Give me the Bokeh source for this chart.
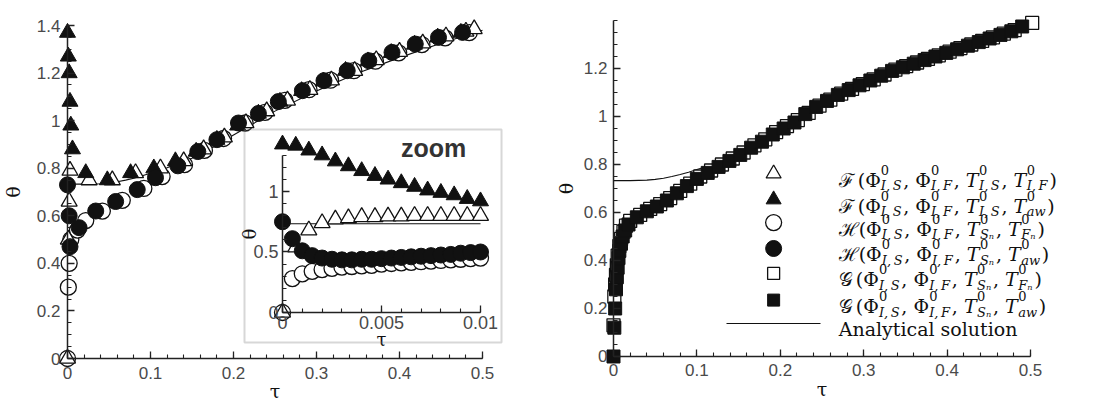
from bokeh.plotting import figure
from bokeh.models import Range1d, LinearAxis, FixedTicker, BoxAnnotation, Label, ColumnDataSource
from bokeh.layouts import row
from bokeh.embed import file_html
from bokeh.resources import INLINE
from bokeh.core.properties import value

# ---------------------------------------------------------------- data
# analytical solution (both panels)
TAU_AN = [0.0, 0.02, 0.04, 0.05, 0.06, 0.07, 0.08, 0.09, 0.10, 0.11, 0.12, 0.14, 0.16,
          0.20, 0.25, 0.30, 0.35, 0.40, 0.45, 0.50]
TH_AN = [0.733, 0.733, 0.735, 0.738, 0.743, 0.750, 0.758, 0.768, 0.779, 0.790, 0.802,
         0.828, 0.856, 0.940, 1.040, 1.125, 1.200, 1.265, 1.325, 1.380]

# left panel, main axes
TAU_F_AW = [0.0, 0.001, 0.002, 0.003, 0.004, 0.006, 0.022, 0.048, 0.076, 0.104, 0.130,
            0.155, 0.180, 0.205, 0.230, 0.256, 0.282, 0.308, 0.335, 0.362, 0.390, 0.418,
            0.446, 0.474]
TH_F_AW = [1.37, 1.27, 1.20, 1.08, 0.98, 0.88, 0.78, 0.75, 0.78, 0.80, 0.83, 0.87, 0.92,
           0.98, 1.03, 1.08, 1.125, 1.165, 1.21, 1.25, 1.285, 1.32, 1.35, 1.37]
TAU_F_IF = [0.0, 0.001, 0.002, 0.003, 0.026, 0.054, 0.082, 0.112, 0.140, 0.164, 0.189,
            0.215, 0.240, 0.265, 0.292, 0.318, 0.346, 0.372, 0.400, 0.428, 0.456, 0.480,
            0.490]
TH_F_IF = [0.0, 0.50, 0.66, 0.79, 0.75, 0.75, 0.78, 0.80, 0.83, 0.88, 0.93, 0.99, 1.04,
           1.085, 1.13, 1.17, 1.21, 1.255, 1.29, 1.325, 1.355, 1.375, 1.385]
TAU_H_AW = [0.0, 0.002, 0.003, 0.014, 0.034, 0.058, 0.084, 0.106, 0.133, 0.157, 0.180,
            0.206, 0.230, 0.254, 0.283, 0.309, 0.337, 0.363, 0.391, 0.419, 0.447, 0.476]
TH_H_AW = [0.73, 0.60, 0.47, 0.55, 0.62, 0.66, 0.71, 0.76, 0.81, 0.87, 0.92, 0.99, 1.03,
           1.08, 1.126, 1.168, 1.21, 1.252, 1.287, 1.322, 1.35, 1.371]
TAU_H_FN = [0.0, 0.001, 0.002, 0.004, 0.012, 0.022, 0.042, 0.066, 0.092, 0.114, 0.141,
            0.165, 0.188, 0.214, 0.238, 0.262, 0.291, 0.317, 0.345, 0.371, 0.399, 0.427,
            0.455, 0.484]
TH_H_FN = [0.0, 0.30, 0.40, 0.50, 0.54, 0.58, 0.62, 0.665, 0.715, 0.765, 0.815, 0.875,
           0.925, 0.99, 1.035, 1.085, 1.13, 1.17, 1.21, 1.25, 1.285, 1.32, 1.348, 1.37]

# left panel, zoom inset
ZTAU_F = [0.0, 0.00067, 0.00133, 0.002, 0.00267, 0.00333, 0.004, 0.00467, 0.00533, 0.006,
          0.00667, 0.00733, 0.008, 0.00867, 0.00933, 0.01]
ZTH_F_AW = [1.39, 1.38, 1.34, 1.30, 1.25, 1.21, 1.17, 1.13, 1.10, 1.07, 1.04, 1.01, 0.99,
            0.97, 0.94, 0.92]
ZTH_F_IF = [0.0, 0.54, 0.68, 0.74, 0.77, 0.78, 0.79, 0.79, 0.795, 0.795, 0.80, 0.80, 0.80,
            0.80, 0.80, 0.80]
ZTAU_H = [0.0, 0.0005, 0.001, 0.0015, 0.002, 0.0025, 0.003, 0.0035, 0.004, 0.0045, 0.005,
          0.0055, 0.006, 0.0065, 0.007, 0.0075, 0.008, 0.0085, 0.009, 0.0095, 0.01]
ZTH_H_AW = [0.75, 0.61, 0.51, 0.47, 0.45, 0.44, 0.435, 0.435, 0.44, 0.44, 0.445, 0.45,
            0.455, 0.46, 0.465, 0.47, 0.475, 0.48, 0.49, 0.495, 0.50]
ZTH_H_FN = [0.0, 0.28, 0.32, 0.34, 0.355, 0.365, 0.375, 0.38, 0.385, 0.39, 0.40, 0.405,
            0.41, 0.415, 0.42, 0.425, 0.43, 0.435, 0.44, 0.445, 0.45]
ZTAU_AN = [0.0, 0.01]
ZTH_AN = [0.733, 0.733]

# right panel
TAU_G_AW = [0.0, 0.001, 0.002, 0.003, 0.004, 0.005, 0.006, 0.007, 0.009, 0.011, 0.014,
            0.018, 0.028, 0.040, 0.052, 0.064, 0.076, 0.088, 0.100, 0.113, 0.126, 0.139,
            0.152, 0.165, 0.178, 0.191, 0.204, 0.217, 0.230, 0.243, 0.256, 0.269, 0.282,
            0.295, 0.308, 0.321, 0.334, 0.347, 0.360, 0.373, 0.386, 0.399, 0.412, 0.425,
            0.438, 0.451, 0.464, 0.477, 0.490]
TH_G_AW = [0.0, 0.12, 0.20, 0.28, 0.33, 0.37, 0.41, 0.44, 0.47, 0.50, 0.525, 0.55, 0.58,
           0.605, 0.625, 0.65, 0.68, 0.71, 0.74, 0.765, 0.79, 0.815, 0.84, 0.87, 0.895,
           0.925, 0.95, 0.975, 1.01, 1.04, 1.065, 1.09, 1.11, 1.13, 1.15, 1.17, 1.19, 1.205,
           1.22, 1.235, 1.25, 1.265, 1.28, 1.295, 1.31, 1.325, 1.34, 1.355, 1.375]
TAU_G_FN = [0.0, 0.001, 0.002, 0.003, 0.004, 0.005, 0.007, 0.009, 0.012, 0.015, 0.020,
            0.032, 0.044, 0.056, 0.068, 0.080, 0.092, 0.104, 0.117, 0.130, 0.143, 0.156,
            0.169, 0.182, 0.195, 0.208, 0.221, 0.234, 0.247, 0.260, 0.273, 0.286, 0.299,
            0.312, 0.325, 0.338, 0.351, 0.364, 0.377, 0.390, 0.403, 0.416, 0.429, 0.442,
            0.455, 0.468, 0.481, 0.502]
TH_G_FN = [0.13, 0.25, 0.30, 0.34, 0.38, 0.42, 0.46, 0.49, 0.52, 0.545, 0.565, 0.59, 0.615,
           0.635, 0.66, 0.69, 0.72, 0.75, 0.775, 0.80, 0.825, 0.85, 0.88, 0.905, 0.935,
           0.96, 0.985, 1.015, 1.045, 1.07, 1.095, 1.115, 1.135, 1.155, 1.175, 1.195, 1.21,
           1.225, 1.24, 1.255, 1.27, 1.285, 1.30, 1.315, 1.33, 1.345, 1.36, 1.39]

# axes
X_TICKS = [0, 0.1, 0.2, 0.3, 0.4, 0.5]
X_LABELS = ["0", "0.1", "0.2", "0.3", "0.4", "0.5"]
YL_TICKS = [0, 0.2, 0.4, 0.6, 0.8, 1, 1.2, 1.4]
YL_LABELS = ["0", "0.2", "0.4", "0.6", "0.8", "1", "1.2", "1.4"]
YR_TICKS = [0, 0.2, 0.4, 0.6, 0.8, 1, 1.2]
YR_LABELS = ["0", "0.2", "0.4", "0.6", "0.8", "1", "1.2"]
ZX_TICKS = [0, 0.005, 0.01]
ZX_LABELS = ["0", "0.005", "0.01"]
ZY_TICKS = [0, 0.5, 1]
ZY_LABELS = ["0", "0.5", "1"]

# legend
LEG_FUNC = ["ℱ", "ℱ", "ℋ", "ℋ", "𝒢", "𝒢"]
LEG_T1 = ["I,\u2009S", "I,\u2009S", "Sₙ", "Sₙ", "Sₙ", "Sₙ"]
LEG_T2 = ["I,\u2009F", "aw", "Fₙ", "aw", "Fₙ", "aw"]
LEG_LINE_TEXT = "Analytical solution"

# ---------------------------------------------------------------- style
INK = "#111111"
AXC = "#222222"
LBL = "#4a4a4a"
SANS = "Liberation Sans"
SERIF = "DejaVu Serif"


def style_axis(ax, ticks, labels, minor, bounds, fs, lab, lab_fs, so, lso):
    ax.ticker = FixedTicker(ticks=ticks, minor_ticks=minor)
    ax.major_label_overrides = {t: s for t, s in zip(ticks, labels)}
    ax.bounds = bounds
    ax.axis_line_color = AXC
    ax.axis_line_width = 1.5
    ax.major_tick_line_color = AXC
    ax.minor_tick_line_color = AXC
    ax.major_tick_line_width = 1.3
    ax.minor_tick_line_width = 1.1
    ax.major_tick_in = 7
    ax.major_tick_out = 0
    ax.minor_tick_in = 4
    ax.minor_tick_out = 0
    ax.major_label_text_font = SANS
    ax.major_label_text_font_size = fs
    ax.major_label_text_color = LBL
    ax.major_label_standoff = so
    ax.axis_label = lab
    ax.axis_label_text_font = SERIF
    ax.axis_label_text_font_style = "normal"
    ax.axis_label_text_font_size = lab_fs
    ax.axis_label_text_color = INK
    ax.axis_label_standoff = lso


def steps(step, top):
    n = int(round(top / step))
    return [round(k * step, 6) for k in range(n + 1)]


def make_fig(xr, yr):
    p = figure(width=549, height=402, x_range=Range1d(*xr), y_range=Range1d(*yr),
               output_backend="svg", toolbar_location=None, min_border=0,
               min_border_left=0, min_border_right=0, min_border_top=0, min_border_bottom=0)
    p.grid.visible = False
    p.outline_line_color = None
    return p


def pts(p, x, y, marker, size, filled, **kw):
    p.scatter(x=x, y=y, marker=marker, size=size,
              fill_color=INK if filled else "white", line_color=INK,
              line_width=1.0 if filled else 1.3, **kw)


# ---------------------------------------------------------------- left panel
p1 = make_fig((-0.080723, 0.580723), (-0.184985, 1.505107))
p1.extra_x_ranges = {"zx": Range1d(-0.0142424, 0.0134848)}
p1.extra_y_ranges = {"zy": Range1d(-0.743802, 2.578512)}

p1.xaxis.fixed_location = 0
p1.yaxis.fixed_location = 0
style_axis(p1.xaxis[0], X_TICKS, X_LABELS, steps(0.02, 0.5), (0, 0.5), "17px", "τ", "19px", 8, -2)
style_axis(p1.yaxis[0], YL_TICKS, YL_LABELS, steps(0.05, 1.4), (0, 1.4), "17px", "θ", "19px", 7, 10)

p1.line(TAU_AN, TH_AN, line_color=INK, line_width=1.1)
pts(p1, TAU_H_FN, TH_H_FN, "circle", 16, False)
pts(p1, TAU_F_IF, TH_F_IF, "triangle", 16, False)
pts(p1, TAU_F_AW, TH_F_AW, "triangle", 16, True)
pts(p1, TAU_H_AW, TH_H_AW, "circle", 16, True)

# inset
box = BoxAnnotation(left=-0.001919, right=0.011061, bottom=-0.2479, top=1.5124,
                    x_range_name="zx", y_range_name="zy",
                    fill_alpha=0, line_color="#7a7a7a", line_width=2)
p1.add_layout(box)

zxa = LinearAxis(x_range_name="zx", y_range_name="zy", fixed_location=0)
zya = LinearAxis(x_range_name="zx", y_range_name="zy", fixed_location=0)
p1.add_layout(zxa, "below")
p1.add_layout(zya, "left")
style_axis(zxa, ZX_TICKS, ZX_LABELS, steps(0.001, 0.01), (0, 0.01), "18px", "τ", "18px", 4, -4)
style_axis(zya, ZY_TICKS, ZY_LABELS, steps(0.1, 1.3), (0, 1.3), "18px", "θ", "18px", 4, -10)

zk = dict(x_range_name="zx", y_range_name="zy")
p1.line(ZTAU_AN, ZTH_AN, line_color=INK, line_width=1.1, **zk)
pts(p1, ZTAU_H, ZTH_H_FN, "circle", 16, False, **zk)
pts(p1, ZTAU_F, ZTH_F_IF, "triangle", 16, False, **zk)
pts(p1, ZTAU_F, ZTH_F_AW, "triangle", 16, True, **zk)
pts(p1, ZTAU_H, ZTH_H_AW, "circle", 16, True, **zk)

p1.add_layout(Label(x=0.00763, y=1.36, text="zoom", text_font=SANS, text_font_style="bold",
                    text_font_size="25px", text_color="#333333", text_align="center",
                    text_baseline="middle", **zk))

# ---------------------------------------------------------------- right panel
p2 = make_fig((-0.076739, 0.581535), (-0.191667, 1.483333))
p2.xaxis.fixed_location = 0
p2.yaxis.fixed_location = 0
style_axis(p2.xaxis[0], X_TICKS, X_LABELS, steps(0.02, 0.5), (0, 0.5), "17px", "τ", "19px", 8, -2)
style_axis(p2.yaxis[0], YR_TICKS, YR_LABELS, steps(0.05, 1.4), (0, 1.4), "17px", "θ", "19px", 6, 4)

p2.line(TAU_AN, TH_AN, line_color=INK, line_width=1.1)
pts(p2, TAU_G_FN, TH_G_FN, "square", 13, False)
pts(p2, TAU_G_AW, TH_G_AW, "square", 13, True)

# legend (layout positions in the right panel's data space)
LEG_SYM_X = 0.192
LEG_TXT_X = 0.270
LEG_LINE_X = (0.1355, 0.2482)
LEG_ROWS = [0.762, 0.654, 0.558, 0.450, 0.346, 0.235, 0.1375]
leg_markers = [("triangle", 15, False), ("triangle", 15, True), ("circle", 16, False),
               ("circle", 16, True), ("square", 12, False), ("square", 12, True)]
for (mk, sz, fl), yy in zip(leg_markers, LEG_ROWS[:6]):
    pts(p2, [LEG_SYM_X], [yy], mk, sz, fl)
p2.line(list(LEG_LINE_X), [LEG_ROWS[6], LEG_ROWS[6]], line_color=INK, line_width=1.1)

CW = {"(": 0.39, ")": 0.39, ",": 0.318, " ": 0.318, "\u2009": 0.2, "Φ": 0.80, "T": 0.67,
      "0": 0.636, "I": 0.40, "S": 0.69, "F": 0.71, "a": 0.60, "w": 0.86, "n": 0.64,
      "ₙ": 0.42, "ℱ": 0.95, "ℋ": 1.0, "𝒢": 0.85}


def tw(s, size):
    return sum(CW.get(c, 0.62) for c in s) * size


BASE, SMALL = 19, 13
BASE_DY, SUP_DY, SUB_DY = 6, -4, 12
leg = {"x": [], "y": [], "text": [], "dx": [], "dy": [], "fs": [], "fst": []}


def put(yy, text, dx, dy, size, style):
    leg["x"].append(LEG_TXT_X)
    leg["y"].append(yy)
    leg["text"].append(text)
    leg["dx"].append(dx)
    leg["dy"].append(dy)
    leg["fs"].append(f"{size}px")
    leg["fst"].append(style)


for i in range(6):
    yy = LEG_ROWS[i]
    x = 0.0
    put(yy, LEG_FUNC[i], x, BASE_DY, BASE, "normal")
    x += tw(LEG_FUNC[i], BASE) + 1
    put(yy, "(", x, BASE_DY, BASE, "normal")
    x += tw("(", BASE)
    args = [("Φ", "I,\u2009S", "normal"), ("Φ", "I,\u2009F", "normal"),
            ("T", LEG_T1[i], "italic"), ("T", LEG_T2[i], "italic")]
    for j, (sym, sub, st) in enumerate(args):
        put(yy, sym, x, BASE_DY, BASE, st)
        x += tw(sym, BASE) + 0.5
        put(yy, "0", x, SUP_DY, SMALL, "normal")
        put(yy, sub, x, SUB_DY, SMALL, "italic")
        x += max(tw("0", SMALL), tw(sub, SMALL)) + 1.5
        if j < 3:
            put(yy, ",", x, BASE_DY, BASE, "normal")
            x += tw(", ", BASE)
    put(yy, ")", x, BASE_DY, BASE, "normal")
put(LEG_ROWS[6], LEG_LINE_TEXT, 0, BASE_DY, BASE, "normal")

p2.text(x="x", y="y", text="text", x_offset="dx", y_offset="dy", text_font_size="fs",
        text_font_style="fst", text_font=value(SERIF), text_align="left",
        text_baseline="alphabetic", text_color=INK, source=ColumnDataSource(leg))

layout = row(p1, p2, spacing=0)
open("out.html", "w").write(file_html(layout, INLINE))
